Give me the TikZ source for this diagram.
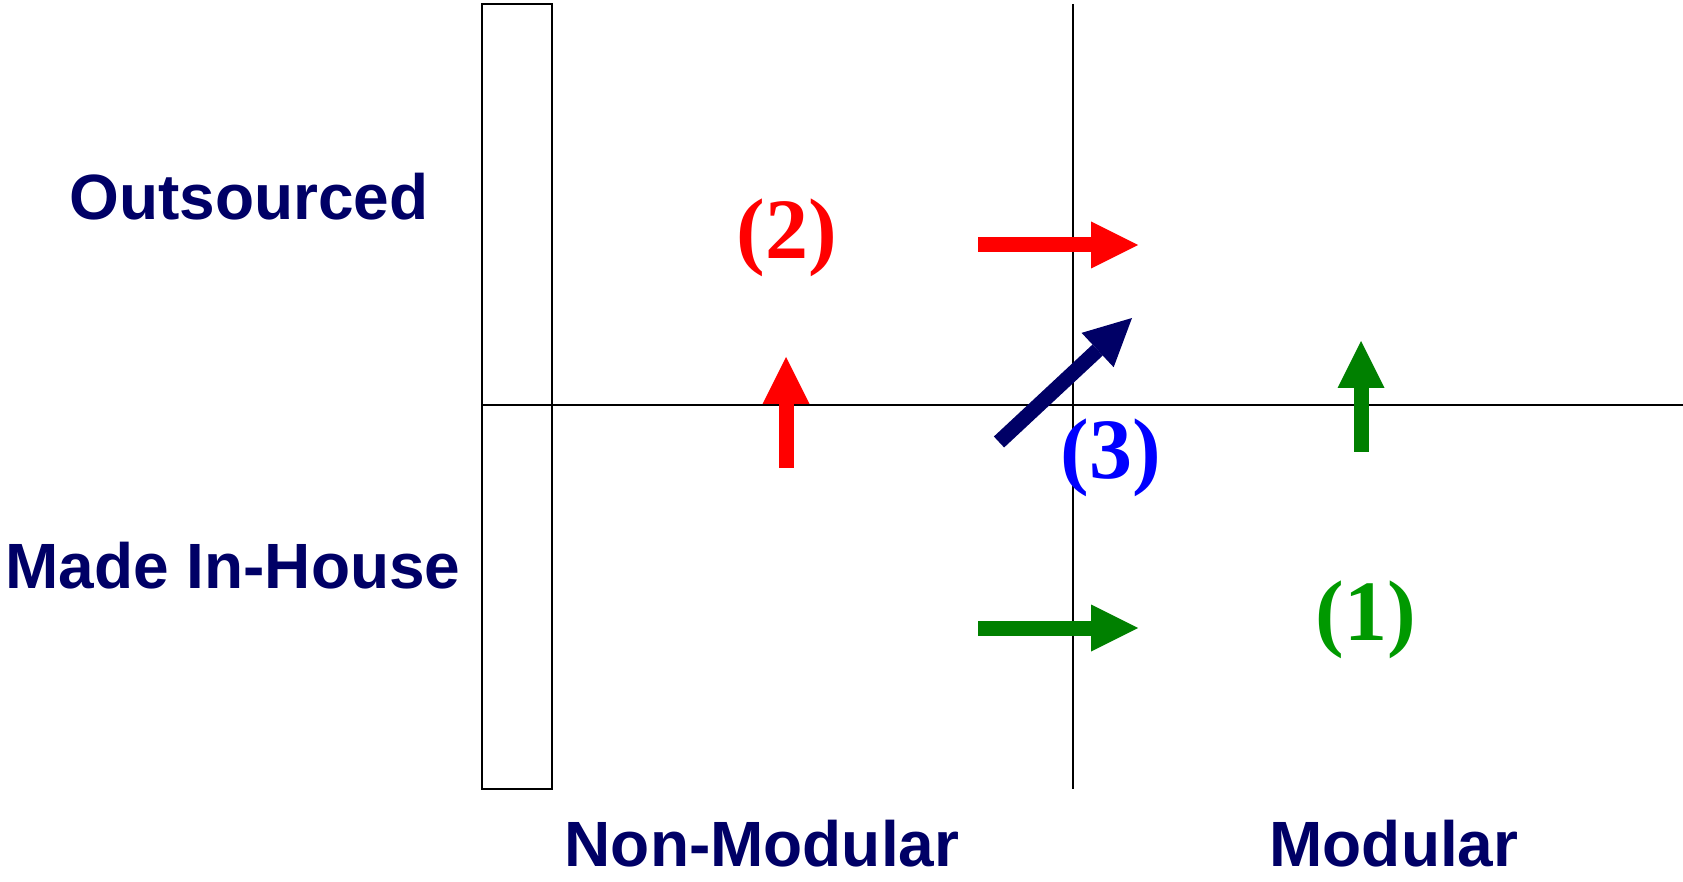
\documentclass[tikz,border=0pt]{standalone}
\usepackage{fontspec}
\setmainfont{Liberation Sans}
\newfontfamily\numfont{Liberation Serif}
\usepackage{tikz}
\usetikzlibrary{arrows.meta}
\definecolor{navy}{HTML}{000066}
\definecolor{redmove}{HTML}{FF0000}
\definecolor{greenmove}{HTML}{008000}
\definecolor{greentag}{HTML}{009900}
\definecolor{bluetag}{HTML}{0000FF}

\begin{document}
\begin{tikzpicture}[x=0.5pt,y=-0.5pt,
  axis/.style={draw=black,line width=0.8pt},
  rowlab/.style={font=\bfseries\fontsize{32}{38}\selectfont,text=navy,anchor=base,inner sep=0pt},
  tag/.style={font=\numfont\bfseries\fontsize{43}{50}\selectfont,anchor=base,inner sep=0pt},
  move/.style={line width=7.5pt,-{Triangle[length=23.5pt,width=23.5pt,line width=0pt]}}]
\useasboundingbox (0,0) rectangle (1683,882);

% grid
\coordinate (top)   at (1073,4);
\coordinate (bot)   at (1073,789);
\coordinate (left)  at (482,405);
\coordinate (right) at (1683,405);
\draw[axis] (482,4) rectangle (552,789);
\draw[axis] (top) -- (bot);
\draw[axis] (left) -- (right);

% axis labels
\node[rowlab] (out)   at (249,220) {Outsourced};
\node[rowlab] (inh)   at (233,588) {Made In-House};
\node[rowlab] (nonmod) at (762,866) {Non-Modular};
\node[rowlab] (mod)   at (1394,866) {Modular};

% numbered moves
\node[tag,text=redmove]  (t2) at (787,259)  {(2)};
\node[tag,text=bluetag]  (t3) at (1111,479) {(3)};
\node[tag,text=greentag] (t1) at (1366,640) {(1)};

\coordinate (r1a) at (978,245);  \coordinate (r1b) at (1138,245);
\coordinate (r2a) at (786,468);  \coordinate (r2b) at (786,357);
\coordinate (g1a) at (978,628);  \coordinate (g1b) at (1138,628);
\coordinate (g2a) at (1361,452); \coordinate (g2b) at (1361,341);
\coordinate (n1a) at (999,442);  \coordinate (n1b) at (1132,318);

\draw[move,redmove]   (r1a) -- (r1b);
\draw[move,redmove]   (r2a) -- (r2b);
\draw[move,greenmove] (g1a) -- (g1b);
\draw[move,greenmove] (g2a) -- (g2b);
\draw[move,navy]      (n1a) -- (n1b);
\end{tikzpicture}
\end{document}
